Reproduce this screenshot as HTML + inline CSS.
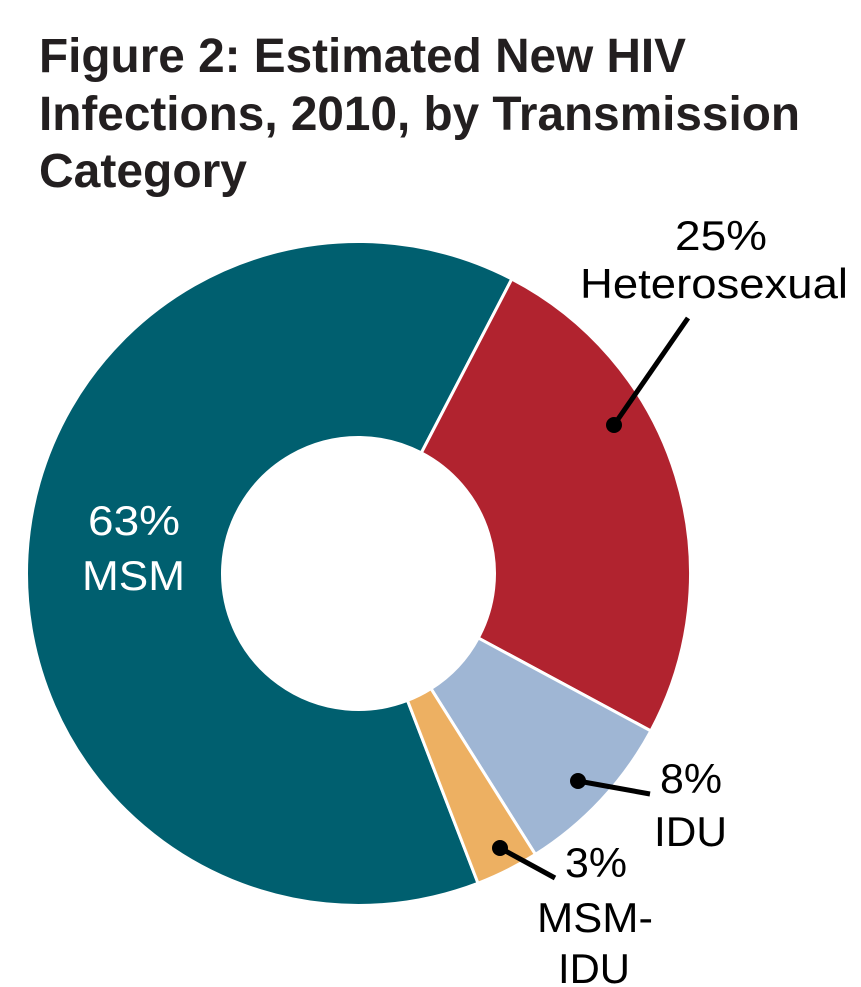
<!DOCTYPE html>
<html><head><meta charset="utf-8"><style>
html,body{margin:0;padding:0;background:#fff;}
svg{display:block;}
text{font-family:"Liberation Sans",sans-serif;}
</style></head><body>
<svg width="861" height="987" viewBox="0 0 861 987" xmlns="http://www.w3.org/2000/svg">
<g font-weight="bold" font-size="48" fill="#231f20">
<text x="39" y="72" textLength="647" lengthAdjust="spacingAndGlyphs">Figure 2: Estimated New HIV</text>
<text x="39" y="130" textLength="761" lengthAdjust="spacingAndGlyphs">Infections, 2010, by Transmission</text>
<text x="39" y="187" textLength="208" lengthAdjust="spacingAndGlyphs">Category</text>
</g>
<g stroke="#fff" stroke-width="3" stroke-linejoin="miter">
<path id="msm" fill="#005f6f"/>
<path id="het" fill="#b1232f"/>
<path id="idu" fill="#9fb6d4"/>
<path id="mi" fill="#edb062"/>
</g>
<g stroke="#000" stroke-width="5" fill="#000">
<line x1="614" y1="425" x2="688" y2="318"/><circle cx="614" cy="425" r="8" stroke="none"/>
<line x1="578" y1="781" x2="650" y2="794"/><circle cx="578" cy="781" r="8" stroke="none"/>
<line x1="500" y1="848" x2="555" y2="878"/><circle cx="500" cy="848" r="8" stroke="none"/>
</g>
<g font-size="42" fill="#000">
<text x="675" y="250" textLength="92" lengthAdjust="spacingAndGlyphs">25%</text>
<text x="580" y="298" textLength="268" lengthAdjust="spacingAndGlyphs">Heterosexual</text>
<text x="660" y="793" textLength="62" lengthAdjust="spacingAndGlyphs">8%</text>
<text x="654" y="846" textLength="73" lengthAdjust="spacingAndGlyphs">IDU</text>
<text x="565" y="877" textLength="62" lengthAdjust="spacingAndGlyphs">3%</text>
<text x="537" y="932" textLength="116" lengthAdjust="spacingAndGlyphs">MSM-</text>
<text x="558" y="983" textLength="72" lengthAdjust="spacingAndGlyphs">IDU</text>
</g>
<g font-size="42" fill="#fff">
<text x="88" y="535" textLength="92" lengthAdjust="spacingAndGlyphs">63%</text>
<text x="82" y="590" textLength="103" lengthAdjust="spacingAndGlyphs">MSM</text>
</g>
<script>
(function(){
var cx=358.5,cy=573.5,R=332,r=136;
function p(a,rad){a=a*Math.PI/180;return (cx+rad*Math.cos(a)).toFixed(2)+","+(cy+rad*Math.sin(a)).toFixed(2);}
function seg(a0,a1){var l=(a1-a0)>180?1:0;
return "M"+p(a0,R)+" A"+R+","+R+" 0 "+l+" 1 "+p(a1,R)+" L"+p(a1,r)+" A"+r+","+r+" 0 "+l+" 0 "+p(a0,r)+" Z";}
document.getElementById("het").setAttribute("d",seg(-62.5,28.3));
document.getElementById("idu").setAttribute("d",seg(28.3,57.8));
document.getElementById("mi").setAttribute("d",seg(57.8,68.9));
document.getElementById("msm").setAttribute("d",seg(68.9,297.5));
})();
</script>
</svg>
</body></html>
